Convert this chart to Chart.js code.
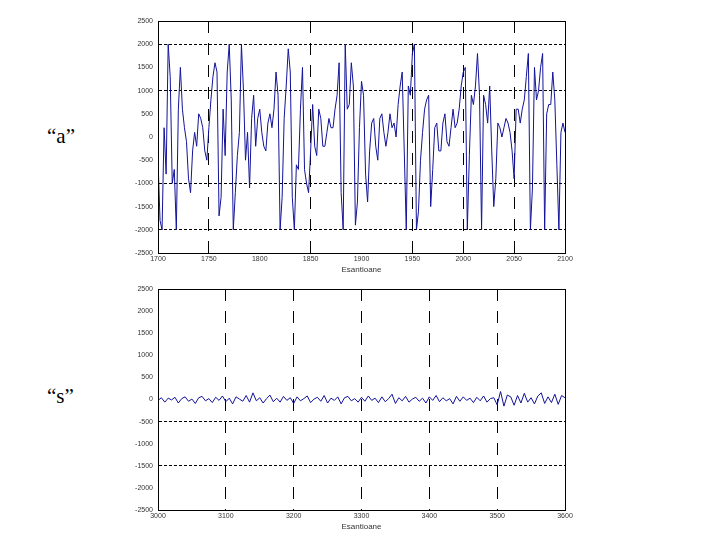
<!DOCTYPE html>
<html>
<head>
<meta charset="utf-8">
<script src="https://cdn.jsdelivr.net/npm/chart.js@4.4.0/dist/chart.umd.min.js"></script>
<style>
  body { margin: 0; background: #fff; width: 720px; height: 540px; position: relative; overflow: hidden; }
  canvas { position: absolute; left: 0; }
  .lbl { position: absolute; font-family: "Liberation Serif", "DejaVu Serif", serif; font-size: 21px; color: #000; }
</style>
</head>
<body>
<div class="lbl" style="left:47px; top:124px;">“a”</div>
<div class="lbl" style="left:47px; top:384px;">“s”</div>
<canvas id="topChart" width="720" height="275" style="top:0"></canvas>
<canvas id="bottomChart" width="720" height="257" style="top:275px"></canvas>
<script>
// signal "a": samples 1700..2100, every 2nd sample
const aStart = 1700;
const aStep = 2;
const aValues = [
  -500, -1800, -2000, 200, -800, 2000, 1300, -1000, -700, -2000,
  600, 1500, 600, 200, -100, -900, -1200, -300, 100, -200,
  500, 400, 200, -300, -500, 200, 800, 1300, 1600, 1400,
  -1700, -1300, 600, -400, 1400, 2000, 800, -2000, -1200, -400,
  100, 2000, 1000, -500, 100, -1100, 400, 900, -200, 400,
  600, 100,
  -200, -300, 300, 500, 200, 600, 1400, 900, -2000, -1300,
  400, 1100, 1900, 1400, -1300, -2000, -600, -700, 600, 1500,
  -700, -1000, -1200, -300, 700, -200, -400, 600, 400, -200,
  -200, 100, 400, 200, 200, 600, 900, 1600, -1200, -2000,
  2000, 600, 700, 1600, 1100, -1900, -1400, 200, 1200, 900,
  -800, -1400, -300, 300, 400, -200, -500, 400, 500, 100,
  -200, 100, 500, 200, 300, 0, 700, 1100, 1400, -300,
  -2000, 1100, 900, 1800, 2000, -2000, -1600, -500, 100, 600,
  800, 900, -1500, -700, 200, 300, -300, -300, 300, 500,
  -100, -200, 200, 600, 200, 300, 600, 1100, 1400, 1500,
  -2000, -400, 900, 700, 1100, 1800, 900, -2000, 900, 700,
  300, 1100, -300, -1500, -900, 300, 200, 0, 200, 400,
  300, 100, -300, -900, 600, 600, 300, 600, 800, 1300,
  1800, -2000, -1100, 1500, 800, 1000, 1500, 1800, -2000, 500,
  700, 700, 1400, 800, -600, -2000, 100, 300, 100
];

// signal "s": samples 3000..3600, every 5th sample
const sStart = 3000;
const sStep = 5;
const sValues = [
  -20, 40, -60, 30, -10, 50, -80, 20, 60, -40,
  10, -90, 40, 70, -30, 20, -70, 50, -20, 80,
  -50, 30, -100, 60, 10, -40, 90, -60, 150, -30,
  40, -80, 20, 100, -50, 30, -60, 70, -20, 40,
  -90, 60, -30, 20, 80, -70, 10, 50, -40, 90,
  -80, 30, -20, 60, -100, 40, 70, -30, 20, -60,
  50, -40, 80, -20, 30, -70, 60, -50, 20, 120,
  -90, 40, -30, 70, -60, 10, 50, -40, 30, -80,
  60, -20, 90, -50, 40, -30, 20, -100, 70, -40,
  60, -20, 30, -70, 50, -30, 80, -60, 20, 40,
  -120, 180, -150, 100, 60, -130, 90, -80, 140, -60,
  40, -100, 80, 150, -90, 60, -70, 120, -110, 90,
  40
];

const xLabel = "Esantioane";
const aGridY = [2000, 1000, -1000, -2000];
const aGridX = [1750, 1850, 1950, 2000, 2050];
const sGridY = [-500, -1500];
const sGridX = [3100, 3200, 3300, 3400, 3500];

const tickFont = { family: "Liberation Sans, Arial, sans-serif", size: 7 };

// box around the plot area, like matlab's "box on"
const boxPlugin = {
  id: "boxPlugin",
  afterDraw: (chart) => {
    const { ctx, chartArea: { left, right, top, bottom } } = chart;
    ctx.save();
    ctx.strokeStyle = "#000";
    ctx.lineWidth = 1;
    ctx.strokeRect(left + 0.5, top + 0.5, right - left, bottom - top);
    ctx.restore();
  }
};

function makeChart(id, start, step, values, xmin, xmax, xstep, gridX, gridY, padTop, axisW, axisH) {
  const pts = values.map((v, i) => ({ x: start + i * step, y: v }));
  return new Chart(document.getElementById(id).getContext("2d"), {
    type: "line",
    data: { datasets: [{ data: pts, borderColor: "#12129a", borderWidth: 1, pointRadius: 0, tension: 0 }] },
    plugins: [boxPlugin],
    options: {
      responsive: false,
      animation: false,
      layout: { padding: { left: 0, right: 155, top: padTop, bottom: 0 } },
      plugins: { legend: { display: false }, tooltip: { enabled: false } },
      scales: {
        x: {
          type: "linear", min: xmin, max: xmax,
          ticks: { stepSize: xstep, font: tickFont, color: "#333", padding: 2, maxRotation: 0, callback: v => String(v) },
          grid: { drawTicks: false, color: c => gridX.includes(c.tick && c.tick.value) ? "#000" : "transparent" },
          border: { color: "#000", dash: [12, 10] },
          title: { display: true, text: xLabel, font: { family: "Liberation Sans, Arial, sans-serif", size: 8 }, color: "#333", padding: 0 },
          afterFit: s => { s.height = axisH; }
        },
        y: {
          min: -2500, max: 2500,
          ticks: { stepSize: 500, font: tickFont, color: "#333", padding: 5, callback: v => String(v) },
          grid: { drawTicks: false, color: c => gridY.includes(c.tick && c.tick.value) ? "#000" : "transparent" },
          border: { color: "#000", dash: [3, 2] },
          afterFit: s => { s.width = axisW; }
        }
      }
    }
  });
}

makeChart("topChart", aStart, aStep, aValues, 1700, 2100, 50, aGridX, aGridY, 21, 158, 22);
makeChart("bottomChart", sStart, sStep, sValues, 3000, 3600, 100, sGridX, sGridY, 14, 158, 22);
</script>
</body>
</html>
